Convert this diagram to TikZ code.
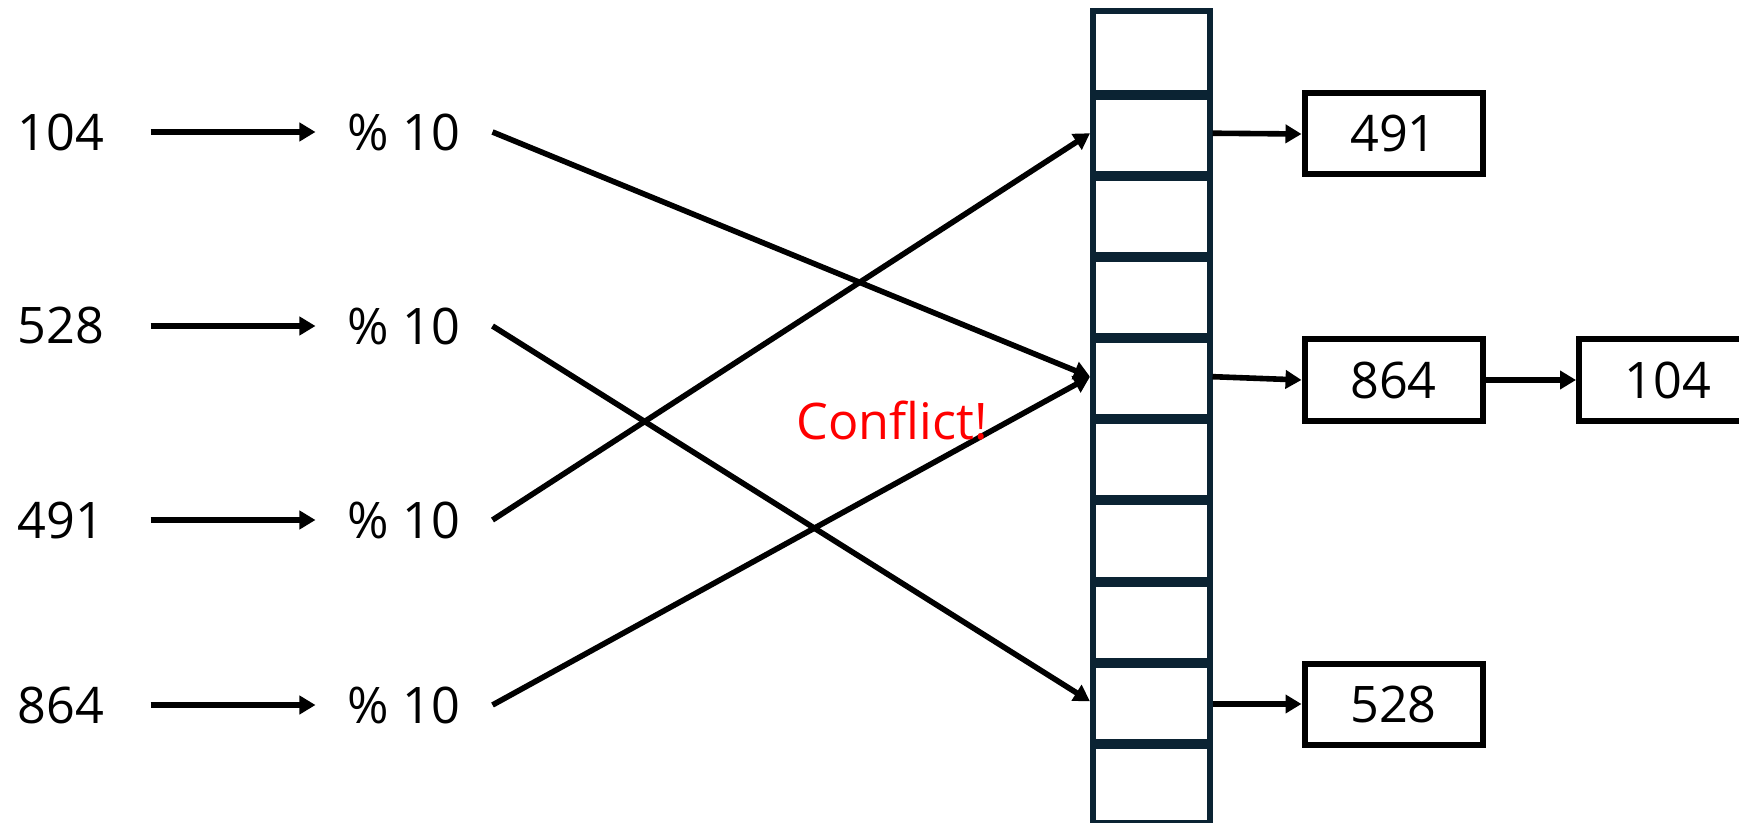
\documentclass[tikz,border=0pt]{standalone}
\usepackage{fontspec}
\setmainfont{Open Sans}
\usetikzlibrary{arrows.meta, positioning}
\definecolor{slotcol}{HTML}{0B2333}
\definecolor{conflictred}{HTML}{FF0000}

\begin{document}
\begin{tikzpicture}[x=0.5pt, y=-0.5pt,
        txt/.style={inner sep=0pt, font=\fontsize{25.2pt}{30pt}\selectfont},
        slot/.style={draw=slotcol, line width=3pt, minimum width=58.25pt, minimum height=40.575pt, inner sep=0pt},
        keybox/.style={txt, draw, line width=3pt, minimum width=89pt, minimum height=40.5pt},
        link/.style={line width=2.8pt, -{Triangle[length=8pt, width=9pt]}}]
            \useasboundingbox (0,0) rectangle (1739,823);

            \foreach \i in {0,...,9}
                \node[slot] (s\i) at (1151.25,{11.5+81.15*(\i+0.5)}) {};
            \foreach \i in {0,...,8}
                \draw[slotcol, line width=4pt] (s\i.south west) -- (s\i.south east);

            \foreach \v/\y [count=\i from 0] in {104/132, 528/326, 491/520, 864/705} {
                \node[txt] (n\i) at (61,\y) {\v};
                \node[txt] (m\i) at (404,\y) {\% 10};
                \draw[link, shorten <=23pt, shorten >=16pt] (n\i) -- (m\i);
            }

            \draw[link] ([xshift=16pt]m0.east) -- (s4.west);
            \draw[link] ([xshift=16pt]m1.east) -- (s8.west);
            \draw[link] ([xshift=16pt]m2.east) -- (s1.west);
            \draw[link] ([xshift=16pt]m3.east) -- (s4.west);

            \node[txt, text=conflictred, anchor=base] (warn) at (892,439) {Conflict!};

            \node[keybox] (b491) at (1393.5,134) {491};
            \node[keybox] (b864) at (1393.5,380) {864};
            \node[keybox, right=45.25pt of b864] (b104) {104};
            \node[keybox] (b528) at (1393.5,704) {528};

            \draw[link] (s1.east) -- (b491.west);
            \draw[link] (s4.east) -- (b864.west);
            \draw[link] (b864) -- (b104);
            \draw[link] (s8.east |- b528.west) -- (b528.west);
        \end{tikzpicture}
\end{document}
